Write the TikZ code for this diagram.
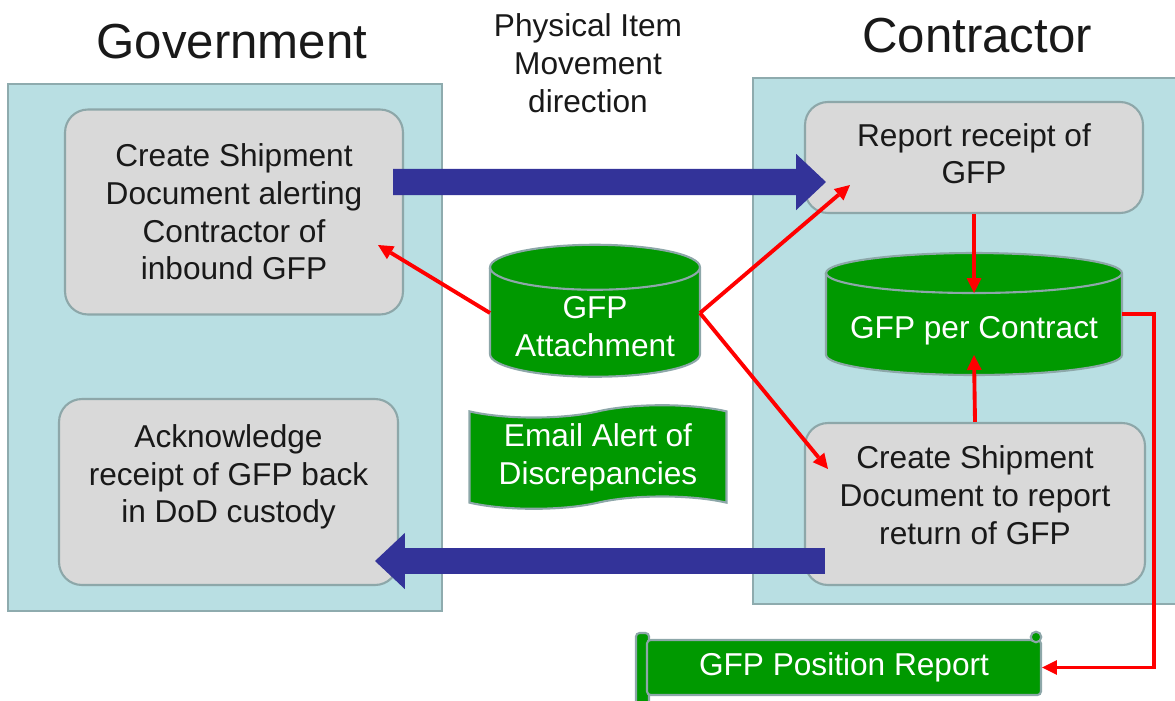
\documentclass[tikz,border=0pt]{standalone}
\usepackage{fontspec}
\setmainfont{Liberation Sans}
\usetikzlibrary{arrows.meta,shapes.symbols}

\definecolor{panelblue}{HTML}{B9DFE3}
\definecolor{paneledge}{HTML}{8EABAE}
\definecolor{boxgray}{HTML}{D9D9D9}
\definecolor{boxedge}{HTML}{8DA7A9}
\definecolor{gfpgreen}{HTML}{009900}
\definecolor{flowblue}{HTML}{333399}

\pgfdeclarelayer{back}
\pgfdeclarelayer{drums}
\pgfsetlayers{back,drums,main}

\tikzset{
  every node/.style={font=\fontsize{18}{21.5}\selectfont, align=center, text=black!90},
  title/.style={font=\fontsize{28}{34}\selectfont},
  panel/.style={rectangle, fill=panelblue, draw=paneledge, line width=1.1pt},
  stepbox/.style={rectangle, rounded corners=13pt, fill=boxgray, draw=boxedge, line width=1.2pt},
  drumtext/.style={rectangle, text=white, inner sep=0pt, outer sep=0pt},
  drum/.style={fill=gfpgreen, draw=boxedge, line width=1.2pt},
  wavebox/.style={tape, fill=gfpgreen, draw=boxedge, line width=1.2pt, text=white, tape bend height=7pt},
  scrollbox/.style={rectangle, rounded corners=2pt, fill=gfpgreen, draw=boxedge, line width=1.2pt, text=white},
  flow/.style={draw=flowblue, line width=15pt, -{Triangle[length=17pt,width=32pt,line width=0pt]}},
  link/.style={draw=red, line width=2.2pt, -{Triangle[length=8.5pt,width=8.5pt,line width=0pt]}},
}

% cylinder drawn round a body node: node, x radius, y radius
\newcommand{\drumshape}[3]{%
  \path[drum] (#1.north west) -- ([yshift=#3]#1.south west)
    arc[start angle=180, end angle=360, x radius=#2, y radius=#3]
    -- (#1.north east)
    arc[start angle=0, end angle=180, x radius=#2, y radius=#3] -- cycle;
  \draw[drum, fill=none] (#1.north west)
    arc[start angle=180, end angle=360, x radius=#2, y radius=#3];
}

\begin{document}
\begin{tikzpicture}[x=0.02cm, y=-0.02cm]
  \useasboundingbox (0,0) rectangle (1175,700);

  % swim lanes
  \begin{pgfonlayer}{back}
    \node[panel, minimum width=8.68cm, minimum height=10.54cm] (govpanel) at (225,347.5) {};
    \node[panel, minimum width=8.8cm, minimum height=10.52cm] (conpanel) at (973,341) {};
  \end{pgfonlayer}

  \node[title, anchor=base] (govtitle) at (232,58) {Government};
  \node[title, anchor=base] (contitle) at (977,52) {Contractor};
  \node (movetext) at (588,63) {Physical Item\\Movement\\direction};

  % government side
  \node[stepbox, minimum width=6.76cm, minimum height=4.1cm] (govship) at (234,212)
    {Create Shipment\\Document alerting\\Contractor of\\inbound GFP};
  \node[stepbox, minimum width=6.78cm, minimum height=3.72cm, text depth=21pt] (govack) at (228.5,492)
    {Acknowledge\\receipt of GFP back\\in DoD custody};

  % contractor side
  \node[stepbox, minimum width=6.76cm, minimum height=2.22cm, text depth=4.5pt] (conrep) at (974,157.5)
    {Report receipt of\\GFP};
  \node[stepbox, minimum width=6.8cm, minimum height=3.24cm, text depth=10pt] (conret) at (975,504)
    {Create Shipment\\Document to report\\return of GFP};

  % data stores
  \node[drumtext, minimum width=4.2cm, minimum height=2.19cm, text height=39pt] (attach) at (595,322) {GFP\\Attachment};
  \node[drumtext, minimum width=5.92cm, minimum height=2.04cm, text height=17pt, text depth=0pt] (gfpcon) at (974,324) {GFP per Contract};
  \begin{pgfonlayer}{drums}
    \drumshape{attach}{2.1cm}{0.45cm}
    \drumshape{gfpcon}{2.96cm}{0.4cm}
  \end{pgfonlayer}

  \node[wavebox, minimum width=5.14cm, minimum height=1.98cm] (mailalert) at (598,457)
    {Email Alert of\\Discrepancies};

  % report scroll
  \path[drum, rounded corners=2pt] (636,715) -- (636,633) -- (649,633) -- (649,715);
  \node[scrollbox, minimum width=7.88cm, minimum height=1.1cm] (posrep) at (844,667.5) {GFP Position Report};
  \path[drum] (1036,637) circle[radius=3pt];

  % item movement
  \draw[flow] ([shift={(-11,-30)}]govship.east) -- ([shift={(22,24.5)}]conrep.west);
  \draw[flow] ([shift={(21,57)}]conret.west) -- ([shift={(-24,69)}]govack.east);

  % data links
  \draw[link] ([shift={(0,-9)}]attach.west) -- ([shift={(-26,33)}]govship.east);
  \draw[link] ([shift={(0,-9)}]attach.east) -- ([shift={(46,-29)}]conrep.south west);
  \draw[link] ([shift={(0,-9)}]attach.east) -- ([shift={(24,47)}]conret.north west);
  \draw[link] (conrep.south) -- ([shift={(0,20)}]gfpcon.north);
  \draw[link] (conret.north) -- ([shift={(0,-20)}]gfpcon.south);
  \draw[link] ([shift={(0,-10)}]gfpcon.east) -- ++(32,0) |- (posrep.east);
\end{tikzpicture}
\end{document}
